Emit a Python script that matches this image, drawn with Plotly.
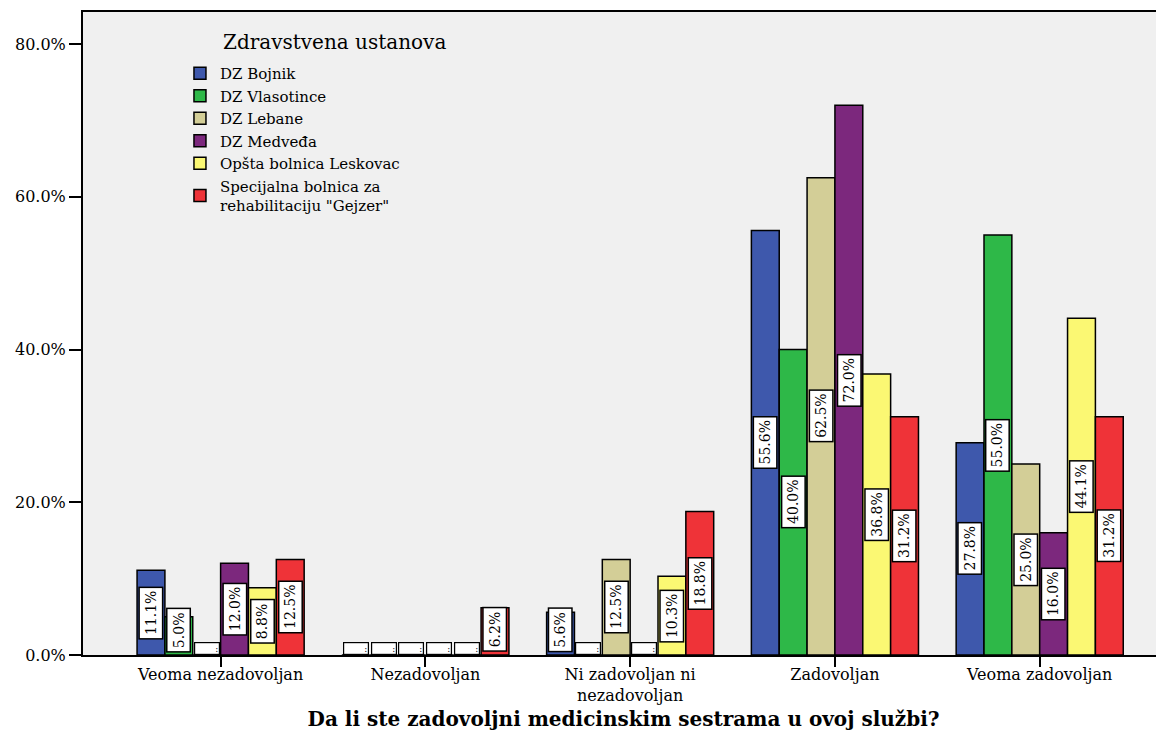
import plotly.graph_objects as go

categories = ["Veoma nezadovoljan", "Nezadovoljan", "Ni zadovoljan ni<br>nezadovoljan",
              "Zadovoljan", "Veoma zadovoljan"]
institutions = ["DZ Bojnik", "DZ Vlasotince", "DZ Lebane", "DZ Medveđa",
                "Opšta bolnica Leskovac", "Specijalna bolnica za<br>rehabilitaciju \"Gejzer\""]
colors = ["#3E58AC", "#2EB848", "#D3CE97", "#7C287D", "#FBF873", "#EF3338"]

bojnik = [11.1, 0.0, 5.6, 55.6, 27.8]
vlasotince = [5.0, 0.0, 0.0, 40.0, 55.0]
lebane = [0.0, 0.0, 12.5, 62.5, 25.0]
medvedja = [12.0, 0.0, 0.0, 72.0, 16.0]
leskovac = [8.8, 0.0, 10.3, 36.8, 44.1]
gejzer = [12.5, 6.2, 18.8, 31.2, 31.2]
series = [bojnik, vlasotince, lebane, medvedja, leskovac, gejzer]

y_tick_vals = [0, 20, 40, 60, 80]
y_tick_text = ["0.0%", "20.0%", "40.0%", "60.0%", "80.0%"]

legend_title = "Zdravstvena ustanova"
x_title = "Da li ste zadovoljni medicinskim sestrama u ovoj službi?"

FONT = "DejaVu Serif"
bargap = 0.184
n = len(series)
bw = (1 - bargap) / n

fig = go.Figure()
for name, vals, col in zip(institutions, series, colors):
    fig.add_trace(go.Bar(
        x=categories, y=vals, name=name,
        marker=dict(color=col, line=dict(color="black", width=1.5)),
    ))

annotations = []
for i, vals in enumerate(series):
    for g, v in enumerate(vals):
        xpos = g + (i - (n - 1) / 2) * bw
        if v > 0:
            annotations.append(dict(
                x=xpos, y=max(v / 2, 3.3), xref="x", yref="y",
                text=f"{v:.1f}%", textangle=-90, showarrow=False,
                font=dict(family=FONT, size=14, color="black"),
                bgcolor="white", bordercolor="black", borderwidth=1.5, borderpad=3,
                xanchor="center", yanchor="middle",
            ))
        else:
            annotations.append(dict(
                x=xpos, y=0, xref="x", yref="y",
                text=":", showarrow=False, width=22, height=9, align="right",
                font=dict(family=FONT, size=9, color="black"),
                bgcolor="white", bordercolor="black", borderwidth=1.2, borderpad=1,
                xanchor="center", yanchor="bottom",
            ))

annotations.append(dict(
    x=0.128, y=0.953, xref="paper", yref="paper", xanchor="left", yanchor="middle",
    text=legend_title, showarrow=False, font=dict(family=FONT, size=20, color="black"),
))

fig.update_layout(
    width=1156, height=723,
    margin=dict(l=75, r=0, t=4, b=76),
    paper_bgcolor="white", plot_bgcolor="#F0F0F0",
    barmode="group", bargap=bargap, bargroupgap=0,
    font=dict(family=FONT, color="black"),
    showlegend=True,
    legend=dict(
        font=dict(family=FONT, size=15),
        x=0.0897, y=0.93, xanchor="left", yanchor="top",
        bgcolor="rgba(0,0,0,0)",
    ),
    xaxis=dict(
        type="category", range=[-0.672, 4.607], automargin=False,
        showline=True, linecolor="black", linewidth=2, mirror=True,
        ticks="outside", ticklen=10, tickwidth=2, tickcolor="black",
        ticklabelstandoff=-6,
        tickfont=dict(family=FONT, size=16),
        title=dict(text=f"<b>{x_title}</b>",
                   font=dict(family=FONT, size=20), standoff=10),
        showgrid=False,
    ),
    yaxis=dict(
        range=[0, 84.2], automargin=False,
        tickvals=y_tick_vals, ticktext=y_tick_text,
        showline=True, linecolor="black", linewidth=2,
        ticks="outside", ticklen=12, tickwidth=2, tickcolor="black",
        tickfont=dict(family=FONT, size=16),
        showgrid=False, zeroline=False,
    ),
    annotations=annotations,
)

fig.write_html("out.html")
